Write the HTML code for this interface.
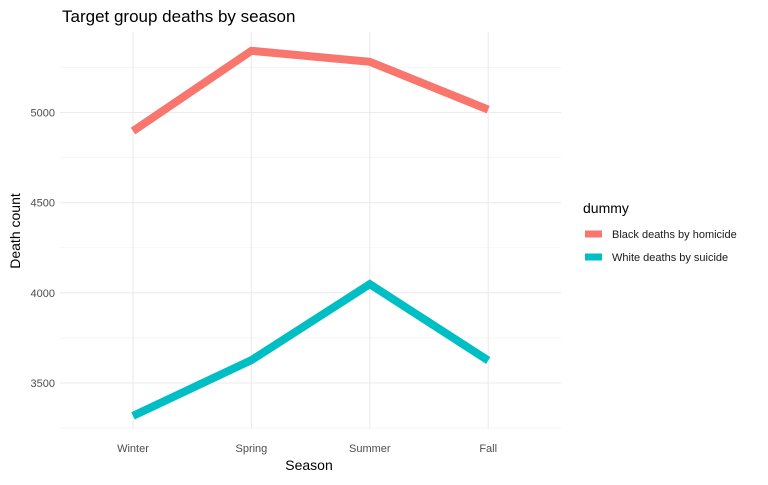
<!DOCTYPE html>
<html><head><meta charset="utf-8"><style>
body{margin:0;background:#fff;font-family:"Liberation Sans",sans-serif}
</style></head><body>
<svg id="chart" width="768" height="480" xmlns="http://www.w3.org/2000/svg">
<text x="62" y="22" font-size="17" fill="#000">Target group deaths by season</text>
<g id="grid"></g><g id="series"></g><g id="axes"></g>
<text x="309" y="470" font-size="14" text-anchor="middle">Season</text>
<text transform="translate(20,231) rotate(-90)" font-size="14" text-anchor="middle">Death count</text>
<text x="583" y="213" font-size="14">dummy</text>
<g><line x1="585" y1="234" x2="602" y2="234" stroke="#F8766D" stroke-width="7"/><text x="612" y="238" font-size="11" fill="#1a1a1a">Black deaths by homicide</text></g>
<g><line x1="585" y1="257" x2="602" y2="257" stroke="#00BFC4" stroke-width="7"/><text x="612" y="261" font-size="11" fill="#1a1a1a">White deaths by suicide</text></g>
</svg>
<script>
const categories=["Winter","Spring","Summer","Fall"];
const blackValues=[4897,5342,5281,5016];
const whiteValues=[3318,3627,4048,3625];
const yTicks=[3500,4000,4500,5000];
const yMinor=[3250,3750,4250,4750,5250];
const NS="http://www.w3.org/2000/svg";
const px0=60,px1=561,py0=32,py1=429;
function x(i){return 133+i*118.4;}
function y(v){return 112.5-(v-5000)*90.17/500;}
function mk(tag,attrs,parent){const e=document.createElementNS(NS,tag);for(const k in attrs)e.setAttribute(k,attrs[k]);document.getElementById(parent).appendChild(e);return e;}
yMinor.forEach(v=>{const l=mk('line',{x1:px0,x2:px1,y1:y(v),y2:y(v),stroke:'#f0f0f0','stroke-width':0.6},'grid');

});
yTicks.forEach(v=>{const l=mk('line',{x1:px0,x2:px1,y1:y(v),y2:y(v),stroke:'#ebebeb','stroke-width':1.1},'grid');


const t=mk('text',{x:55,y:y(v)+4,'font-size':11,fill:'#4d4d4d','text-anchor':'end'},'axes');t.textContent=v;

});
categories.forEach((c,i)=>{const l=mk('line',{x1:x(i),x2:x(i),y1:py0,y2:py1,stroke:'#ebebeb','stroke-width':1.1},'grid');


const t=mk('text',{x:x(i),y:452,'font-size':11,fill:'#4d4d4d','text-anchor':'middle'},'axes');t.textContent=c;

});
function line(vals,col,name){const p=mk('polyline',{points:vals.map((v,i)=>x(i)+','+y(v)).join(' '),fill:'none',stroke:col,'stroke-width':8},'series');

}
line(blackValues,'#F8766D','line-black-homicide');
line(whiteValues,'#00BFC4','line-white-suicide');
</script>
</body></html>
